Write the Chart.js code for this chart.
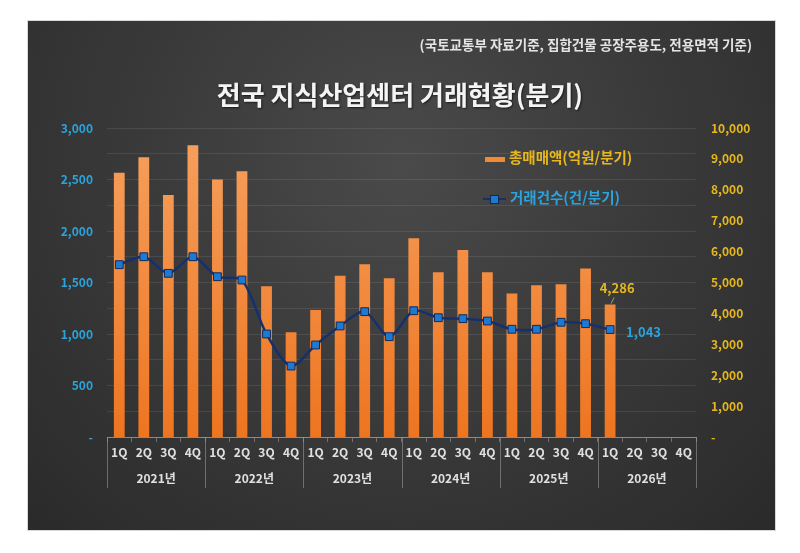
<!DOCTYPE html>
<html>
<head>
<meta charset="utf-8">
<script src="https://cdn.jsdelivr.net/npm/chart.js@4.4.1/dist/chart.umd.min.js"></script>
<style>
  html, body { margin: 0; padding: 0; background: #fff; }
  #wrap { position: relative; width: 800px; height: 553px; overflow: hidden;
          font-family: "Noto Sans CJK KR", "Noto Sans", sans-serif; }
  #panel { position: absolute; left: 28px; top: 21px; width: 747px; height: 509px;
           background: radial-gradient(ellipse at 50% 28%, #4a4a4a 0%, #3b3b3b 45%, #2a2a2a 100%);
           box-shadow: 0 0 0 1px #d8d8d8; }
  #panel canvas { position: absolute; left: 0; top: 0; }
  .sub { position: absolute; right: 48px; top: 34px; color: #e4e4e4; font-size: 13.5px; font-weight: bold; }
  .title { position: absolute; left: 0; width: 800px; top: 75px; text-align: center; color: #f4f4f4;
           font-size: 26px; font-weight: bold; text-shadow: 1px 1px 2px rgba(0,0,0,0.6); }
  .lg { position: absolute; left: 483px; font-size: 14.5px; font-weight: bold; white-space: nowrap; }
  .lg .sw { display: inline-block; vertical-align: middle; position: relative; width: 23px; margin-right: 4px; }
</style>
</head>
<body>
<div id="wrap">
  <div id="panel"><canvas id="c" width="747" height="509"></canvas></div>
  <div class="sub">(국토교통부 자료기준, 집합건물 공장주용도, 전용면적 기준)</div>
  <div class="title">전국 지식산업센터 거래현황(분기)</div>
  <div class="lg" style="top:146px;color:#e6b81e;">
    <span class="sw" style="height:5px;background:#f28a35;width:20px;margin-left:2px;"></span>총매매액(억원/분기)
  </div>
  <div class="lg" style="top:186px;color:#2ba3dc;">
    <span class="sw" style="height:10px;">
      <span style="position:absolute;left:0;top:4px;width:23px;height:2px;background:#16306e;"></span>
      <span style="position:absolute;left:7px;top:1px;width:7px;height:7px;background:#1e7ad0;border:1px solid #0e2a5c;"></span>
    </span>거래건수(건/분기)
  </div>
</div>
<script>
const quarterLabels = ['1Q','2Q','3Q','4Q','1Q','2Q','3Q','4Q','1Q','2Q','3Q','4Q',
                       '1Q','2Q','3Q','4Q','1Q','2Q','3Q','4Q','1Q','2Q','3Q','4Q'];
const yearLabels = ['2021년','2022년','2023년','2024년','2025년','2026년'];
// 총매매액(억원/분기) - right axis
const salesAmount = [8550, 9050, 7830, 9440, 8330, 8600, 4880, 3390, 4110, 5220, 5590, 5140,
                     6430, 5330, 6050, 5330, 4640, 4910, 4940, 5450, 4286, null, null, null];
// 거래건수(건/분기) - left axis
const dealCount = [1673, 1750, 1589, 1750, 1556, 1524, 1000, 689, 893, 1078, 1217, 974,
                   1226, 1158, 1149, 1126, 1046, 1046, 1114, 1100, 1043, null, null, null];
const leftTicks = [0, 500, 1000, 1500, 2000, 2500, 3000];
const rightTicks = [0, 1000, 2000, 3000, 4000, 5000, 6000, 7000, 8000, 9000, 10000];

const blue = '#2ba3dc';
const yellow = '#e6b81e';
const axisFont = { family: '"Noto Sans CJK KR", "Noto Sans", sans-serif', size: 12, weight: 'bold' };

function barGradient(context) {
    const chart = context.chart;
    const area = chart.chartArea;
    if (!area) return '#f08030';
    const g = chart.ctx.createLinearGradient(0, area.top, 0, area.bottom);
    g.addColorStop(0, '#f6a15f');
    g.addColorStop(1, '#ee7520');
    return g;
}

const lastIdx = 20;

const extras = {
    id: 'extras',
    afterDraw(chart) {
        const ctx = chart.ctx;
        const x = chart.scales.x, x2 = chart.scales.x2;
        // year separators
        ctx.save();
        ctx.strokeStyle = 'rgba(160,160,160,0.55)';
        ctx.lineWidth = 1;
        for (let i = 0; i <= yearLabels.length; i++) {
            let px;
            if (i === 0) px = x.left;
            else if (i === yearLabels.length) px = x.right;
            else px = (x.getPixelForValue(4 * i - 1) + x.getPixelForValue(4 * i)) / 2;
            px = Math.round(px) + 0.5;
            ctx.beginPath();
            ctx.moveTo(px, x.top);
            ctx.lineTo(px, x2.bottom);
            ctx.stroke();
        }
        // last-value labels
        const bar = chart.getDatasetMeta(1).data[lastIdx];
        const pt = chart.getDatasetMeta(0).data[lastIdx];
        ctx.font = 'bold 13px "Noto Sans CJK KR", "Noto Sans", sans-serif';
        ctx.textBaseline = 'middle';
        ctx.textAlign = 'center';
        ctx.fillStyle = yellow;
        ctx.fillText(salesAmount[lastIdx].toLocaleString('en-US'), bar.x + 7, bar.y - 17);
        ctx.strokeStyle = 'rgba(200,200,200,0.7)';
        ctx.beginPath();
        ctx.moveTo(bar.x + 4, bar.y - 7);
        ctx.lineTo(bar.x + 1, bar.y - 1);
        ctx.stroke();
        ctx.textAlign = 'left';
        ctx.fillStyle = blue;
        ctx.fillText(dealCount[lastIdx].toLocaleString('en-US'), pt.x + 16, pt.y + 2);
        ctx.restore();
    }
};

new Chart(document.getElementById('c').getContext('2d'), {
    type: 'bar',
    data: {
        labels: quarterLabels,
        datasets: [{
            type: 'line',
            label: '거래건수(건/분기)',
            data: dealCount,
            yAxisID: 'y',
            borderColor: '#16306e',
            borderWidth: 2.5,
            tension: 0.3,
            pointStyle: 'rect',
            pointRadius: 5.5,
            pointBackgroundColor: '#1e7ad0',
            pointBorderColor: '#0e2a5c',
            pointBorderWidth: 1,
            spanGaps: false
        }, {
            type: 'bar',
            label: '총매매액(억원/분기)',
            data: salesAmount,
            yAxisID: 'y1',
            backgroundColor: barGradient,
            barPercentage: 0.44,
            categoryPercentage: 1.0
        }]
    },
    options: {
        responsive: false,
        animation: false,
        layout: { padding: { left: 33, right: 23, top: 107, bottom: 42 } },
        plugins: { legend: { display: false }, tooltip: { enabled: false } },
        scales: {
            x: {
                type: 'category',
                offset: true,
                weight: 0,
                grid: { offset: true, drawOnChartArea: false, tickLength: 5, color: 'rgba(160,160,160,0.55)' },
                border: { display: true, color: 'rgba(170,170,170,0.7)' },
                ticks: { color: '#e0e0e0', font: axisFont, padding: 3, autoSkip: false, maxRotation: 0 },
                afterFit(s) { s.height = 28; }
            },
            x2: {
                type: 'category',
                labels: yearLabels,
                position: 'bottom',
                offset: true,
                weight: 1,
                grid: { display: false, drawTicks: false },
                border: { display: false },
                ticks: { color: '#e0e0e0', font: axisFont, padding: 6, autoSkip: false, maxRotation: 0 },
                afterFit(s) { s.height = 23; }
            },
            y: {
                position: 'left',
                min: 0,
                max: 3000,
                border: { display: false },
                grid: { color: 'rgba(255,255,255,0.09)', drawTicks: false },
                afterBuildTicks(s) {
                    s.ticks = [];
                    for (let v = 0; v <= 3000; v += 250) s.ticks.push({ value: v });
                },
                ticks: {
                    color: blue, font: axisFont, padding: 14,
                    callback: v => v === 0 ? '-' : (leftTicks.includes(v) ? v.toLocaleString('en-US') : '')
                },
                afterFit(s) { s.width = 46; }
            },
            y1: {
                position: 'right',
                min: 0,
                max: 10000,
                border: { display: false },
                grid: { display: false, drawTicks: false },
                afterBuildTicks(s) { s.ticks = rightTicks.map(v => ({ value: v })); },
                ticks: {
                    color: yellow, font: axisFont, padding: 15,
                    callback: v => v === 0 ? '-' : v.toLocaleString('en-US')
                },
                afterFit(s) { s.width = 56; }
            }
        }
    },
    plugins: [extras]
});
</script>
</body>
</html>
